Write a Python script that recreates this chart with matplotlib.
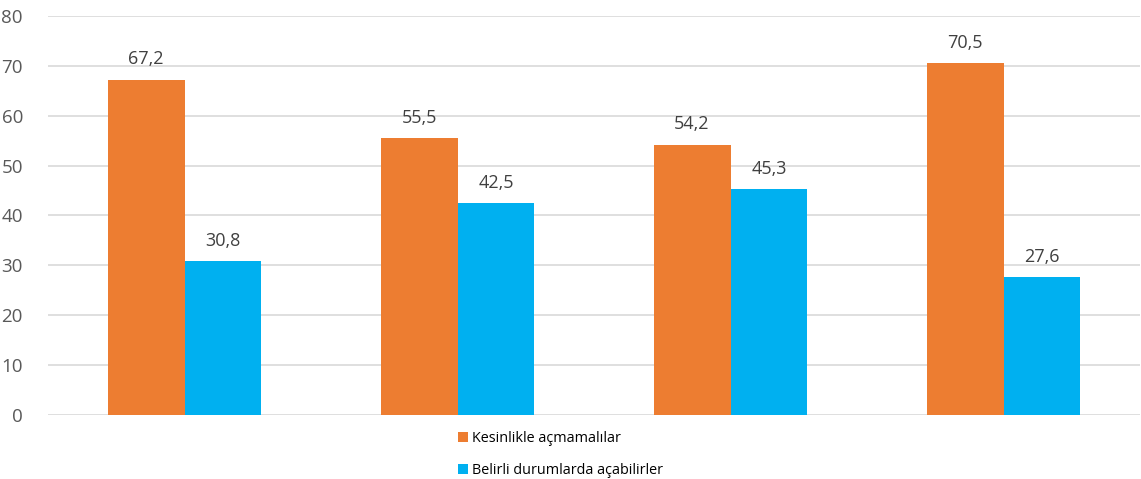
import numpy as np
import matplotlib.pyplot as plt

plt.rcParams['font.family'] = ['Open Sans', 'DejaVu Sans']

groups = ['1', '2', '3', '4']
kesinlikle = [67.2, 55.5, 54.2, 70.5]
belirli = [30.8, 42.5, 45.3, 27.6]
series_names = ['Kesinlikle açmamalılar', 'Belirli durumlarda açabilirler']

orange = '#ED7D31'
blue = '#00B0F0'

fig = plt.figure(figsize=(11.41, 4.79), dpi=100)
ax = fig.add_axes([48 / 1141, 64 / 479, 1092 / 1141, 399 / 479])

x = np.arange(len(groups))
w = 0.282
b1 = ax.bar(x - w / 2, kesinlikle, w, color=orange, label=series_names[0])
b2 = ax.bar(x + w / 2, belirli, w, color=blue, label=series_names[1])

for bars, vals in ((b1, kesinlikle), (b2, belirli)):
    for r, v in zip(bars, vals):
        ax.text(r.get_x() + r.get_width() / 2, v + 2.3, f'{v:.1f}'.replace('.', ','),
                ha='center', va='bottom', fontsize=13, color='#404040')

ax.set_xlim(-0.5, len(groups) - 0.5)
ax.set_ylim(0, 80)
ax.set_yticks(range(0, 81, 10))
ax.set_xticks([])
ax.yaxis.grid(True, color='#D9D9D9', linewidth=1.2)
ax.set_axisbelow(True)
for s in ax.spines.values():
    s.set_visible(False)
ax.tick_params(axis='y', length=0, pad=18, labelsize=13.5, labelcolor='#595959')

leg = fig.legend(loc='upper left', bbox_to_anchor=(452 / 1141, 1 - 425 / 479),
                 frameon=False, fontsize=10.4, handlelength=0.7, handleheight=0.7,
                 handletextpad=0.3, labelspacing=1.2, borderaxespad=0)

fig.savefig('out.png', dpi=100)
